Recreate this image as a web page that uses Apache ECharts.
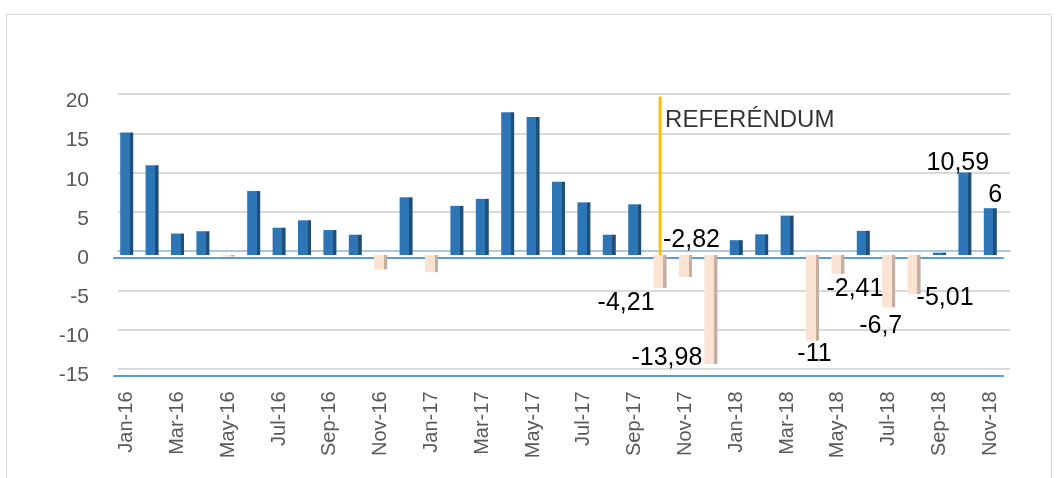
<!DOCTYPE html>
<html>
<head>
<meta charset="utf-8">
<script src="https://cdn.jsdelivr.net/npm/echarts@6/dist/echarts.min.js"></script>
<style>
  html, body { margin: 0; padding: 0; background: #fff; }
  #frame {
    position: absolute; left: 6px; top: 14px; width: 1046px; height: 500px;
    border: 1px solid #d9d9d9; box-sizing: border-box;
  }
  #chart { position: absolute; left: 0; top: 0; width: 1058px; height: 478px; }
</style>
</head>
<body>
<div id="frame"></div>
<div id="chart"></div>
<script>
const months = [
  'Jan-16', 'Feb-16', 'Mar-16', 'Apr-16', 'May-16', 'Jun-16', 'Jul-16', 'Aug-16', 'Sep-16', 'Oct-16', 'Nov-16', 'Dec-16',
  'Jan-17', 'Feb-17', 'Mar-17', 'Apr-17', 'May-17', 'Jun-17', 'Jul-17', 'Aug-17', 'Sep-17', 'Oct-17', 'Nov-17', 'Dec-17',
  'Jan-18', 'Feb-18', 'Mar-18', 'Apr-18', 'May-18', 'Jun-18', 'Jul-18', 'Aug-18', 'Sep-18', 'Oct-18', 'Nov-18'
]
const values = [
  15.7, 11.5, 2.75, 3.05, -0.2, 8.2, 3.5, 4.45, 3.2, 2.6, -1.85, 7.4,
  -2.2, 6.3, 7.2, 18.3, 17.7, 9.4, 6.75, 2.6, 6.5, -4.21, -2.82, -13.98,
  1.9, 2.65, 5.05, -11, -2.41, 3.1, -6.7, -5.01, 0.3, 10.59, 6
]
const yTicks = [-15, -10, -5, 0, 5, 10, 15, 20]
const labelled = ['Oct-17', 'Nov-17', 'Dec-17', 'Apr-18', 'May-18', 'Jul-18', 'Aug-18', 'Oct-18', 'Nov-18']
const eventMonth = 'Oct-17'
const eventName = 'REFERÉNDUM'
const eventLine = [20.3, 0]
const eventLabelAt = 17.2

// where each value label sits around its bar (position, offset)
const labelSpots = {
  'Oct-17': ['bottom', [-34, 3]],
  'Nov-17': ['top', [6, -2]],
  'Dec-17': ['bottom', [-44, -18]],
  'Apr-18': ['bottom', [2, 1]],
  'May-18': ['bottom', [17, 3]],
  'Jul-18': ['bottom', [-8, 6]],
  'Aug-18': ['bottom', [31, -8]],
  'Oct-18': ['top', [-7, 3]],
  'Nov-18': ['top', [5, -1]]
}

const font = "'Liberation Sans', Arial, sans-serif"
const yMin = yTicks[0]
const yMax = yTicks[yTicks.length - 1]

function sideShade(front, side) {
  return {
    type: 'linear', x: 0, y: 0, x2: 1, y2: 0,
    colorStops: [
      { offset: 0, color: front },
      { offset: 0.74, color: front },
      { offset: 0.74, color: side },
      { offset: 1, color: side }
    ]
  }
}
const posColor = sideShade('#2E75B6', '#1F4E79')
const negColor = sideShade('#FBE3D3', '#C4AFA2')

const barData = values.map((v, i) => {
  const item = { value: v, itemStyle: { color: v < 0 ? negColor : posColor } }
  const spot = labelSpots[months[i]]
  if (labelled.includes(months[i]) && spot) {
    item.label = {
      show: true,
      position: spot[0],
      distance: 0,
      offset: spot[1],
      fontFamily: font,
      fontSize: 25,
      color: '#000',
      formatter: p => String(p.value).replace('.', ',')
    }
  }
  return item
})

const chart = echarts.init(document.getElementById('chart'))

chart.setOption({
  animation: false,
  grid: [
    // front plane: axes and labels
    { left: 114, right: 55, top: 101.5, bottom: 102.5 },
    // back wall: gridlines
    { left: 118, right: 48, top: 94, bottom: 109 },
    // middle depth: the columns
    { left: 114, right: 55, top: 99, bottom: 106 }
  ],
  xAxis: [
    {
      type: 'category', data: months, gridIndex: 0, position: 'bottom',
      axisLine: { onZero: false, lineStyle: { color: '#5B9BD5', width: 2 } },
      axisTick: { show: false },
      axisLabel: {
        interval: 1, rotate: 90, margin: 16,
        fontFamily: font, fontSize: 20, color: '#595959'
      }
    },
    {
      type: 'category', data: months, gridIndex: 0, position: 'bottom',
      axisLine: { onZero: true, lineStyle: { color: '#5B9BD5', width: 2 } },
      axisTick: { interval: 1, length: 7, lineStyle: { color: '#5B9BD5', width: 2 } },
      axisLabel: { show: false }
    },
    {
      type: 'category', data: months, gridIndex: 1, position: 'bottom',
      axisLine: { onZero: true, lineStyle: { color: '#9DC3E6', width: 1.5 } },
      axisTick: { show: false }, axisLabel: { show: false }
    },
    { type: 'category', data: months, gridIndex: 2, show: false }
  ],
  yAxis: [
    {
      type: 'value', gridIndex: 0, min: yMin, max: yMax, interval: 5,
      axisLine: { show: false }, axisTick: { show: false },
      splitLine: { show: false },
      axisLabel: { margin: 25, fontFamily: font, fontSize: 21, color: '#595959' }
    },
    {
      type: 'value', gridIndex: 1, min: yMin, max: yMax, interval: 5,
      axisLine: { show: false }, axisTick: { show: false }, axisLabel: { show: false },
      splitLine: { lineStyle: { color: '#D9D9D9', width: 2 } }
    },
    { type: 'value', gridIndex: 2, min: yMin, max: yMax, interval: 5, show: false, splitLine: { show: false } }
  ],
  series: [
    {
      type: 'bar', xAxisIndex: 3, yAxisIndex: 2,
      barWidth: 13,
      data: barData,
      z: 3
    },
    {
      type: 'line', xAxisIndex: 3, yAxisIndex: 2,
      data: eventLine.map(v => [eventMonth, v]),
      symbol: 'none', clip: false,
      lineStyle: { color: '#FFC000', width: 3 },
      z: 4
    },
    {
      type: 'scatter', xAxisIndex: 3, yAxisIndex: 2,
      data: [[eventMonth, eventLabelAt]],
      symbolSize: 0,
      label: {
        show: true, position: 'right', distance: 5,
        formatter: eventName,
        fontFamily: font, fontSize: 24, color: '#000'
      }
    }
  ]
})
</script>
</body>
</html>
